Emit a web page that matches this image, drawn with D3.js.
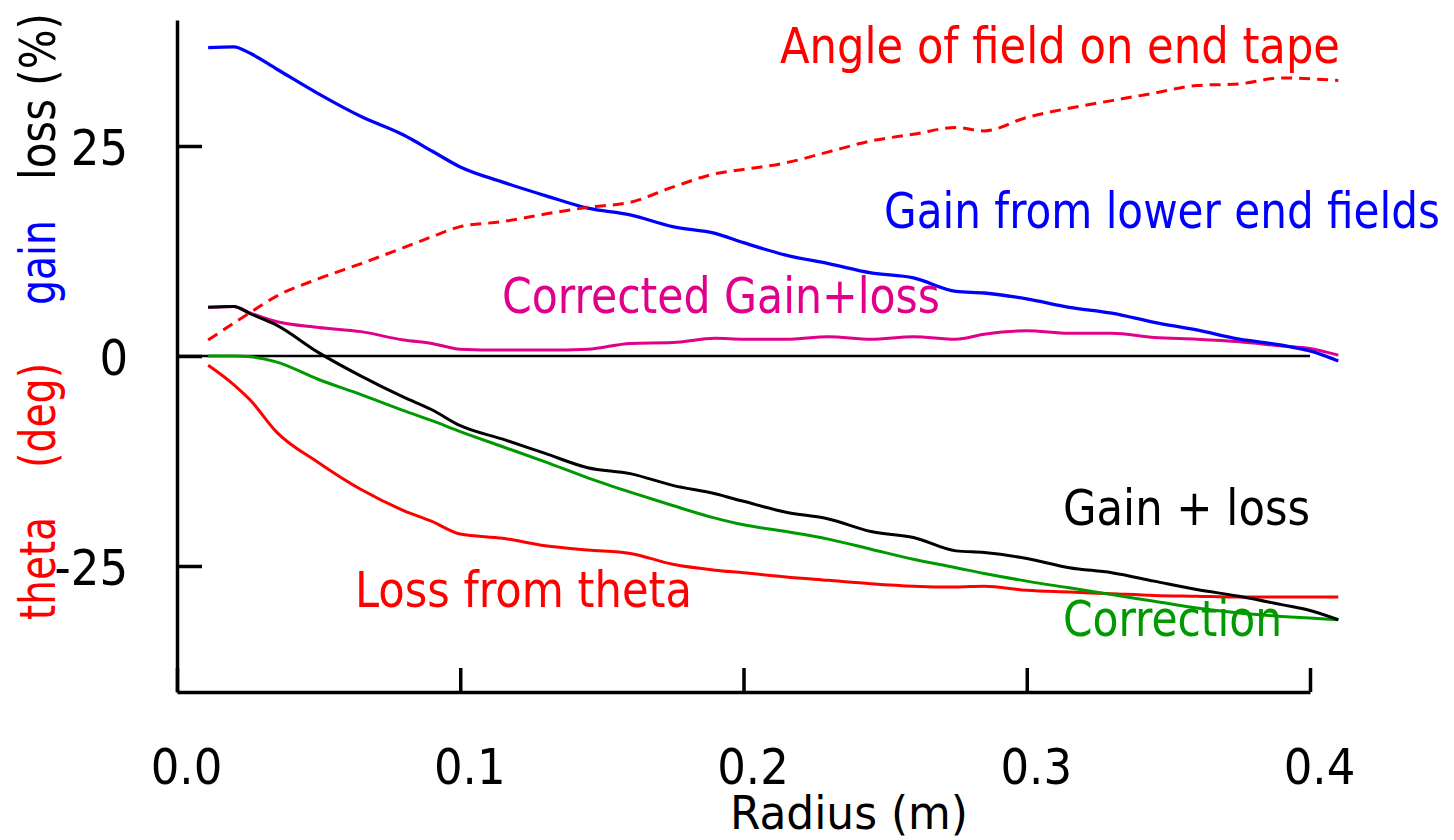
<!DOCTYPE html>
<html>
<head>
<meta charset="utf-8">
<script src="https://cdn.jsdelivr.net/npm/d3@7"></script>
<style>
  body { margin: 0; background: #fff; }
  text { font-family: "Liberation Sans Narrow", "DejaVu Sans Condensed", "Liberation Sans", sans-serif; }
</style>
</head>
<body>
<script>
// radius (m) at which every curve was read
const radius = [0.011, 0.02, 0.026, 0.035, 0.05, 0.065, 0.08, 0.09, 0.1, 0.115, 0.13, 0.145, 0.16, 0.175, 0.19, 0.2,
    0.215, 0.23, 0.245, 0.26, 0.275, 0.285, 0.3, 0.315, 0.33, 0.345, 0.36, 0.375, 0.39, 0.4, 0.41];

const gainLowerEnd = [36.7, 36.8, 36.0, 34.2, 31.2, 28.5, 26.3, 24.4, 22.5, 20.7, 19.1, 17.6, 16.8, 15.4, 14.6, 13.5,
    12.0, 11.0, 9.9, 9.3, 7.7, 7.5, 6.8, 5.8, 5.1, 4.0, 3.1, 2.0, 1.3, 0.6, -0.6];
const angleEndTape = [1.9, 3.9, 5.2, 7.1, 9.2, 11.0, 12.9, 14.2, 15.4, 16.0, 16.9, 17.7, 18.3, 20.1, 21.7, 22.2,
    23.0, 24.3, 25.6, 26.4, 27.2, 26.8, 28.4, 29.5, 30.4, 31.3, 32.2, 32.4, 33.1, 33.0, 32.8];
const correctedGainLoss = [5.8, 5.9, 5.1, 4.1, 3.4, 2.9, 1.9, 1.5, 0.8, 0.7, 0.7, 0.8, 1.5, 1.6, 2.1, 2.0,
    2.0, 2.3, 2.0, 2.3, 2.0, 2.6, 3.0, 2.7, 2.7, 2.2, 2.0, 1.7, 1.2, 0.9, 0.1];
const gainPlusLoss = [5.8, 5.9, 5.0, 3.7, 0.4, -2.4, -4.9, -6.4, -8.3, -9.9, -11.6, -13.3, -14.0, -15.4, -16.4, -17.3,
    -18.6, -19.4, -20.9, -21.6, -23.2, -23.4, -24.1, -25.2, -25.8, -26.8, -27.8, -28.6, -29.6, -30.3, -31.4];
const correction = [0, 0, -0.1, -0.7, -2.8, -4.6, -6.5, -7.7, -9.0, -10.8, -12.6, -14.5, -16.2, -17.8, -19.3, -20.1,
    -20.9, -21.8, -23.0, -24.2, -25.2, -25.9, -26.8, -27.6, -28.4, -29.2, -30.0, -30.6, -31.0, -31.2, -31.4];
const lossTheta = [-1.1, -3.4, -5.3, -9.0, -12.7, -15.9, -18.4, -19.7, -21.2, -21.7, -22.6, -23.1, -23.5, -24.8, -25.5, -25.8,
    -26.3, -26.7, -27.1, -27.4, -27.5, -27.4, -27.9, -28.1, -28.3, -28.5, -28.6, -28.7, -28.7, -28.7, -28.7];

const zeroRadius = [0, 0.4];
const zeroValues = [0, 0];

const xTicks = [0, 0.1, 0.2, 0.3, 0.4];
const yTicks = [-25, 0, 25];

const width = 1454, height = 840;

const svg = d3.select('body').append('svg')
    .attr('width', width)
    .attr('height', height);

const x = d3.scaleLinear().domain([0, 0.4]).range([177, 1310]);
const y = d3.scaleLinear().domain([-40, 40]).range([692, 20]);

// axes, ticks pointing inward
const xAxis = svg.append('g')
    .attr('transform', 'translate(0,692)')
    .call(d3.axisBottom(x).tickValues(xTicks).tickFormat(d3.format('.1f'))
        .tickSizeInner(-24).tickSizeOuter(0).tickPadding(56));
xAxis.selectAll('text').attr('font-size', 50).attr('dx', 9).attr('fill', '#000');

const yAxis = svg.append('g')
    .attr('transform', 'translate(177,0)')
    .call(d3.axisLeft(y).tickValues(yTicks).tickFormat(d => String(d))
        .tickSizeInner(-25).tickSizeOuter(0).tickPadding(49));
yAxis.selectAll('text').attr('font-size', 50).attr('dy', '0.36em').attr('fill', '#000');

svg.selectAll('.domain, .tick line').attr('stroke', '#000').attr('stroke-width', 3.5);

const line = d3.line()
    .x(d => x(d[0]))
    .y(d => y(d[1]))
    .curve(d3.curveMonotoneX);

function drawSeries(rs, vals, color, w, dash) {
    svg.append('path')
        .datum(rs.map((r, i) => [r, vals[i]]))
        .attr('d', line)
        .attr('fill', 'none')
        .attr('stroke', color)
        .attr('stroke-width', w)
        .attr('stroke-dasharray', dash || null);
}

drawSeries(zeroRadius, zeroValues, '#000', 2.5);
drawSeries(radius, lossTheta, '#ff0000', 3);
drawSeries(radius, correction, '#009a00', 3);
drawSeries(radius, correctedGainLoss, '#e0008a', 3);
drawSeries(radius, gainPlusLoss, '#000', 3);
drawSeries(radius, gainLowerEnd, '#0000ff', 3.3);
drawSeries(radius, angleEndTape, '#ff0000', 3, '11,7');

// curve labels
const labels = [
    { t: 'Angle of field on end tape', x: 780, y: 63, w: 560, c: '#ff0000' },
    { t: 'Gain from lower end fields', x: 884, y: 228, w: 556, c: '#0000ff' },
    { t: 'Corrected Gain+loss', x: 502, y: 313, w: 438, c: '#e0008a' },
    { t: 'Gain + loss', x: 1063, y: 525, w: 247, c: '#000' },
    { t: 'Loss from theta', x: 355, y: 607, w: 337, c: '#ff0000' },
    { t: 'Correction', x: 1063, y: 636, w: 219, c: '#009a00' },
    { t: 'Radius (m)', x: 730, y: 829, w: 238, c: '#000', s: 47 }
];
svg.selectAll('.lbl')
    .data(labels)
    .enter().append('text')
    .attr('class', 'lbl')
    .attr('x', d => d.x)
    .attr('y', d => d.y)
    .attr('font-size', d => d.s || 50)
    .attr('fill', d => d.c)
    .attr('textLength', d => d.w)
    .attr('lengthAdjust', 'spacingAndGlyphs')
    .text(d => d.t);

// rotated y label in pieces
const yLabel = [
    { t: 'theta', y0: 620, w: 103, c: '#ff0000' },
    { t: '(deg)', y0: 468, w: 105, c: '#ff0000' },
    { t: 'gain', y0: 305, w: 85, c: '#0000ff' },
    { t: 'loss (%)', y0: 180, w: 167, c: '#000' }
];
svg.selectAll('.ylbl')
    .data(yLabel)
    .enter().append('text')
    .attr('class', 'ylbl')
    .attr('transform', d => `translate(55,${d.y0}) rotate(-90)`)
    .attr('font-size', 50)
    .attr('fill', d => d.c)
    .attr('textLength', d => d.w)
    .attr('lengthAdjust', 'spacingAndGlyphs')
    .text(d => d.t);
</script>
</body>
</html>
